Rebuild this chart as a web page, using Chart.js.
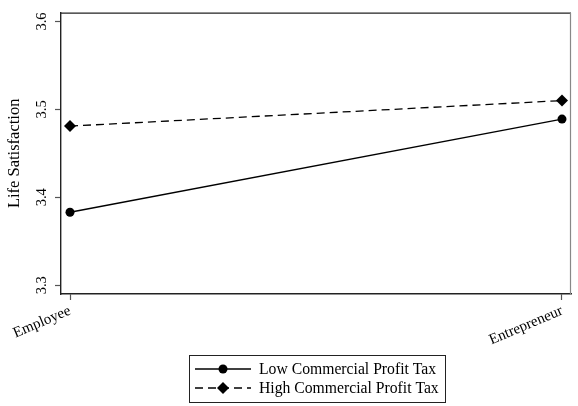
<!DOCTYPE html>
<html>
<head>
<meta charset="utf-8">
<script src="https://cdn.jsdelivr.net/npm/chart.js@4"></script>
<style>
  html, body { margin: 0; padding: 0; background: #fff; }
  #wrap { width: 578px; height: 406px; position: relative; }
</style>
</head>
<body>
<div id="wrap"><canvas id="c" width="578" height="406"></canvas></div>
<script>
// Occupation groups on the x axis
const categories = ['Employee', 'Entrepreneur'];
// Predicted life satisfaction by tax regime
const lowTax = [3.383, 3.489];
const highTax = [3.481, 3.510];
const seriesNames = ['Low Commercial Profit Tax', 'High Commercial Profit Tax'];
// Y axis tick values
const yTicks = [3.3, 3.4, 3.5, 3.6];
const yTitle = 'Life Satisfaction';

const FONT = 'Liberation Serif';

// Box around the plot region plus a framed legend below it
const framePlugin = {
  id: 'frame',
  afterDraw(chart) {
    const ctx = chart.ctx;
    const a = chart.chartArea;
    ctx.save();
    ctx.lineWidth = 1.2;
    ctx.strokeStyle = '#222';
    ctx.beginPath();
    ctx.moveTo(a.left, a.top + 0.5);
    ctx.lineTo(a.right, a.top + 0.5);
    ctx.stroke();
    ctx.strokeStyle = '#888';
    ctx.beginPath();
    ctx.moveTo(a.right - 0.5, a.top);
    ctx.lineTo(a.right - 0.5, a.bottom);
    ctx.stroke();

    // legend
    const bx = 189.5, by = 355.5, bw = 256, bh = 47;
    ctx.strokeStyle = '#222';
    ctx.lineWidth = 1;
    ctx.strokeRect(bx, by, bw, bh);
    const rows = [
      { ds: chart.data.datasets[0], y: 369 },
      { ds: chart.data.datasets[1], y: 388 }
    ];
    ctx.font = '15.7px "' + FONT + '"';
    ctx.textBaseline = 'middle';
    ctx.textAlign = 'left';
    rows.forEach(r => {
      ctx.save();
      ctx.strokeStyle = '#000';
      ctx.lineWidth = 1.3;
      ctx.setLineDash(r.ds.borderDash || []);
      ctx.beginPath();
      ctx.moveTo(195, r.y);
      ctx.lineTo(251, r.y);
      ctx.stroke();
      ctx.restore();
      Chart.helpers.drawPoint(ctx, {
        pointStyle: r.ds.pointStyle,
        radius: r.ds.pointRadius,
        borderWidth: 0
      }, 223, r.y);
      ctx.fillStyle = '#000';
      ctx.fillText(r.ds.label, 259, r.y + 1);
    });
    ctx.restore();
  }
};

const toPoints = arr => arr.map((v, i) => ({ x: i, y: v }));

new Chart(document.getElementById('c'), {
  type: 'line',
  data: {
    datasets: [
      {
        label: seriesNames[0],
        data: toPoints(lowTax),
        borderColor: '#000',
        backgroundColor: '#000',
        borderWidth: 1.3,
        pointStyle: 'circle',
        pointRadius: 4.5,
        pointBorderWidth: 0,
        pointBackgroundColor: '#000',
        tension: 0
      },
      {
        label: seriesNames[1],
        data: toPoints(highTax),
        borderColor: '#000',
        backgroundColor: '#000',
        borderWidth: 1.3,
        borderDash: [8, 5],
        pointStyle: 'rectRot',
        pointRadius: 6,
        pointBorderWidth: 0,
        pointBackgroundColor: '#000',
        tension: 0
      }
    ]
  },
  options: {
    responsive: false,
    animation: false,
    events: [],
    layout: { padding: { top: 10, right: 7, bottom: 52, left: 0 } },
    plugins: {
      legend: { display: false },
      tooltip: { enabled: false }
    },
    scales: {
      x: {
        type: 'linear',
        min: -0.0183,
        max: 1.0183,
        afterBuildTicks(scale) {
          scale.ticks = categories.map((c, i) => ({ value: i }));
        },
        afterFit(scale) { scale.height = 60; },
        ticks: {
          callback: (v) => categories[v],
          minRotation: 23,
          maxRotation: 23,
          color: '#000',
          padding: 2,
          font: { family: FONT, size: 15 }
        },
        grid: {
          drawOnChartArea: false,
          drawTicks: true,
          tickLength: 6,
          color: '#555',
          tickWidth: 1.2
        },
        border: { display: true, color: '#222', width: 1.4 }
      },
      y: {
        min: 3.29,
        max: 3.61,
        afterBuildTicks(scale) {
          scale.ticks = yTicks.map(v => ({ value: v }));
        },
        afterFit(scale) { scale.width = 61; },
        ticks: {
          callback: (v) => v.toFixed(1),
          minRotation: 90,
          maxRotation: 90,
          crossAlign: 'center',
          color: '#000',
          padding: 4,
          font: { family: FONT, size: 14.5 }
        },
        grid: {
          drawOnChartArea: false,
          drawTicks: true,
          tickLength: 6,
          color: '#555',
          tickWidth: 1.2
        },
        border: { display: true, color: '#222', width: 1.4 },
        title: {
          display: true,
          text: yTitle,
          color: '#000',
          padding: { top: 5, bottom: 0 },
          font: { family: FONT, size: 16.5 }
        }
      }
    }
  },
  plugins: [framePlugin]
});
</script>
</body>
</html>
